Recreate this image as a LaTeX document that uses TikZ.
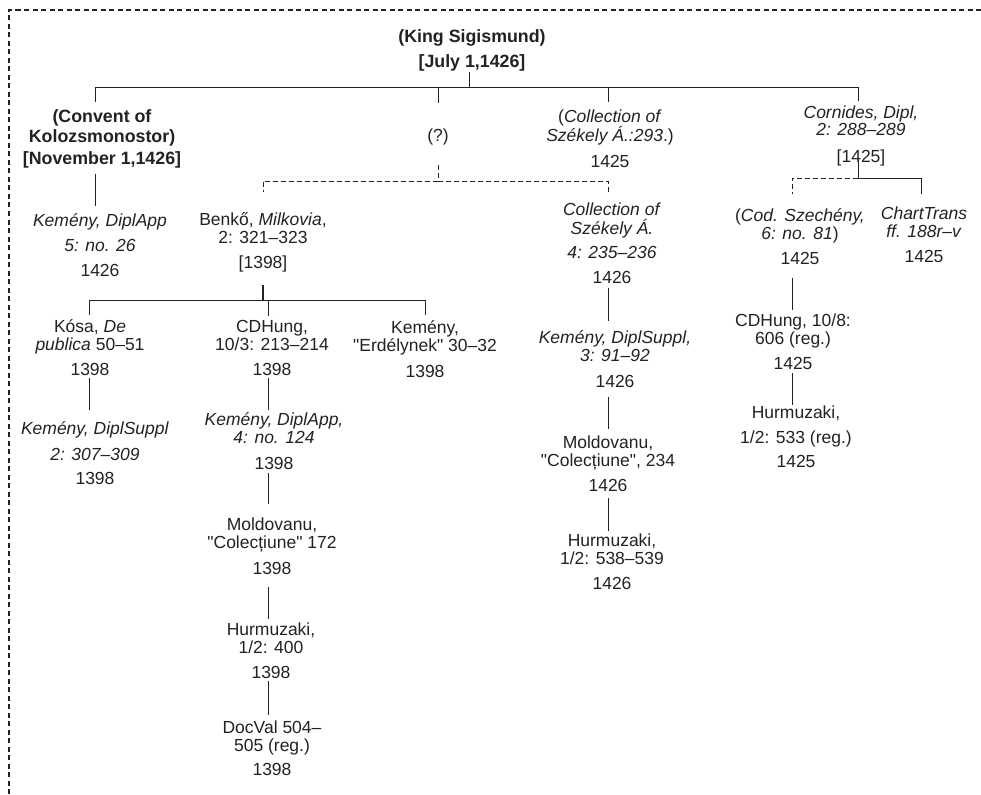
\documentclass[tikz,border=0pt]{standalone}
\usepackage{fontspec}
\setmainfont{Liberation Sans}
\newfontfamily\qf{Liberation Sans}[Ligatures=TeXOff]
\usetikzlibrary{calc}
\definecolor{ink}{HTML}{222222}
\newcommand\lblfont{\fontsize{17.5}{17.5}\selectfont\setlength{\lineskiplimit}{-30pt}}
\newcommand\blfont{\fontsize{17.8}{17.5}\selectfont\bfseries\setlength{\lineskiplimit}{-30pt}}
\newcommand\dq{{\qf"}}
\begin{document}
\begin{tikzpicture}[x=1pt,y=-1pt,
  lbl/.style={align=center, inner sep=0pt, anchor=base, text=ink, font=\lblfont},
  bl/.style={lbl, font=\blfont},
  conn/.style={draw=ink, line width=0.9pt},
  dconn/.style={conn, dash pattern=on 5pt off 3pt},
  frame/.style={draw=ink, line width=1.2pt, dash pattern=on 5pt off 3.5pt},
  gap/.style 2 args={shorten <=#1, shorten >=#2}]
\useasboundingbox (0,0) rectangle (981,794);
\draw[frame] (9,794) -- (9,10) -- (981,10);

% top level (node y = baseline of last line)
\node[bl] (king) at (472,68) {(King Sigismund)\\[7.5pt]{}[July 1,1426]};
\node[bl] (convent) at (102,165) {(Convent of\\[2.5pt]Kolozsmonostor)\\[4.5pt]{}[November 1,1426]};
\node[lbl] (q) at (438,142) {(?)};
\node[lbl] (coll293) at (610,168) {(\textit{Collection of}\\[1.5pt]\textit{Székely Á.:293}.)\\[8.5pt]1425};
\node[lbl] (cornides) at (861,163) {\textit{Cornides, Dipl,}\\\textit{2: 288–289}\\[9.5pt]{}[1425]};

% second level
\node[lbl] (kemda5) at (100,276) {\textit{Kemény, DiplApp}\\[7.5pt]\textit{5: no. 26}\\[7.5pt]1426};
\node[lbl] (benko) at (263,268) {Benkő, \textit{Milkovia},\\2: 321--323\\[7.5pt]{}[1398]};
\node[lbl] (colla) at (612,283) {\textit{Collection of}\\[1.5pt]\textit{Székely Á.}\\[6.5pt]\textit{4: 235–236}\\[7.5pt]1426};
\node[lbl] (codsz) at (800,264) {(\textit{Cod. Szechény,}\\[0.5pt]\textit{6: no. 81})\\[7.5pt]1425};
\node[lbl] (charttrans) at (924,262) {\textit{ChartTrans}\\[0.5pt]\textit{ff. 188r–v}\\[7.5pt]1425};

% Benko children
\node[lbl] (kosa) at (90,375) {Kósa, \textit{De}\\[0.5pt]\textit{publica} 50--51\\[7.5pt]1398};
\node[lbl] (cdhung103) at (272,375) {CDHung,\\[0.5pt]10/3: 213--214\\[7.5pt]1398};
\node[lbl] (kemerd) at (425,377) {Kemény,\\[0.5pt]\dq Erdélynek\dq{} 30--32\\[8.5pt]1398};
\node[lbl] (kemds2) at (95,484) {\textit{Kemény, DiplSuppl}\\[8.5pt]\textit{2: 307–309}\\[6.5pt]1398};
\node[lbl] (kemda4) at (274,469) {\textit{Kemény, DiplApp,}\\\textit{4: no. 124}\\[8.5pt]1398};
\node[lbl] (mold172) at (272,574) {Moldovanu,\\\dq Colecțiune\dq{} 172\\[8.5pt]1398};
\node[lbl] (hurm400) at (271,678) {Hurmuzaki,\\[0.5pt]1/2: 400\\[7.5pt]1398};
\node[lbl] (docval) at (272,775) {DocVal 504--\\[0.5pt]505 (reg.)\\[6.5pt]1398};

% Szekely chain
\node[lbl] (kemds3) at (615,387) {\textit{Kemény, DiplSuppl,}\\\textit{3: 91–92}\\[8.5pt]1426};
\node[lbl] (mold234) at (608,491) {Moldovanu,\\\dq Colecțiune\dq, 234\\[7.5pt]1426};
\node[lbl] (hurm538) at (612,589) {Hurmuzaki,\\[0.5pt]1/2: 538--539\\[7.5pt]1426};

% Szecheny chain
\node[lbl] (cdhung108) at (793,369) {CDHung, 10/8:\\606 (reg.)\\[7.5pt]1425};
\node[lbl] (hurm533) at (796,467) {Hurmuzaki,\\[7.5pt]1/2: 533 (reg.)\\[6.5pt]1425};

% junction points
\coordinate (kb) at (469,87);
\coordinate (qb) at (438,181);
\coordinate (bb) at (263,300);
\coordinate (cb) at (858,178);

% King branches
\draw[conn] (king.south -| kb) -- (kb);
\draw[conn, shorten >=7.6pt] (kb) -| (convent.north -| 95,0);
\draw[conn, shorten >=26.6pt] (kb) -| (q.north -| 438,0);
\draw[conn, shorten >=8.6pt] (kb) -| (coll293.north -| 608,0);
\draw[conn, shorten >=4.6pt] (kb) -| (cornides.north -| 858,0);

% (?) dashed branches
\draw[dconn, shorten <=19.4pt] (q.south -| qb) -- (qb);
\draw[dconn, shorten >=20.3pt] (qb) -| (benko.north -| 263,0);
\draw[dconn, shorten >=7.6pt] (qb) -| (colla.north -| 608,0);

% Cornides branches
\draw[conn, shorten <=-6.6pt] (cornides.south -| cb) -- (cb);
\draw[conn, shorten >=12.6pt] (cb) -| (charttrans.north -| 921,0);
\draw[dconn, shorten >=13.6pt] (cb) -| (codsz.north -| 792,0);

% Benko branches
\draw[draw=ink, line width=1.8pt, shorten <=13.4pt] (benko.south -| bb) -- (bb);
\draw[conn, shorten >=3.6pt] (bb) -| (kosa.north -| 89,0);
\draw[conn, shorten >=3.6pt] (bb) -| (cdhung103.north -| 268,0);
\draw[conn, shorten >=4.6pt] (bb) -| (kemerd.north -| 425,0);

% vertical chains
\draw[conn, gap={5.4pt}{6.6pt}] (convent.south -| 95,0) -- (kemda5.north -| 95,0);
\draw[conn, gap={3pt}{10.6pt}] (kosa.south -| 89,0) -- (kemds2.north -| 89,0);
\draw[conn, gap={3pt}{2.6pt}] (cdhung103.south -| 268,0) -- (kemda4.north -| 268,0);
\draw[conn, gap={4pt}{13.6pt}] (kemda4.south -| 268,0) -- (mold172.north -| 268,0);
\draw[conn, gap={13pt}{3.6pt}] (mold172.south -| 268,0) -- (hurm400.north -| 268,0);
\draw[conn, gap={3pt}{5.6pt}] (hurm400.south -| 268,0) -- (docval.north -| 268,0);
\draw[conn, gap={5pt}{9.6pt}] (colla.south -| 608,0) -- (kemds3.north -| 608,0);
\draw[conn, gap={10pt}{6.6pt}] (kemds3.south -| 608,0) -- (mold234.north -| 608,0);
\draw[conn, gap={7pt}{2.6pt}] (mold234.south -| 608,0) -- (hurm538.north -| 608,0);
\draw[conn, gap={14pt}{3.6pt}] (codsz.south -| 792,0) -- (cdhung108.north -| 792,0);
\draw[conn, gap={4pt}{0pt}] (cdhung108.south -| 792,0) -- (hurm533.north -| 792,0);
\end{tikzpicture}
\end{document}
